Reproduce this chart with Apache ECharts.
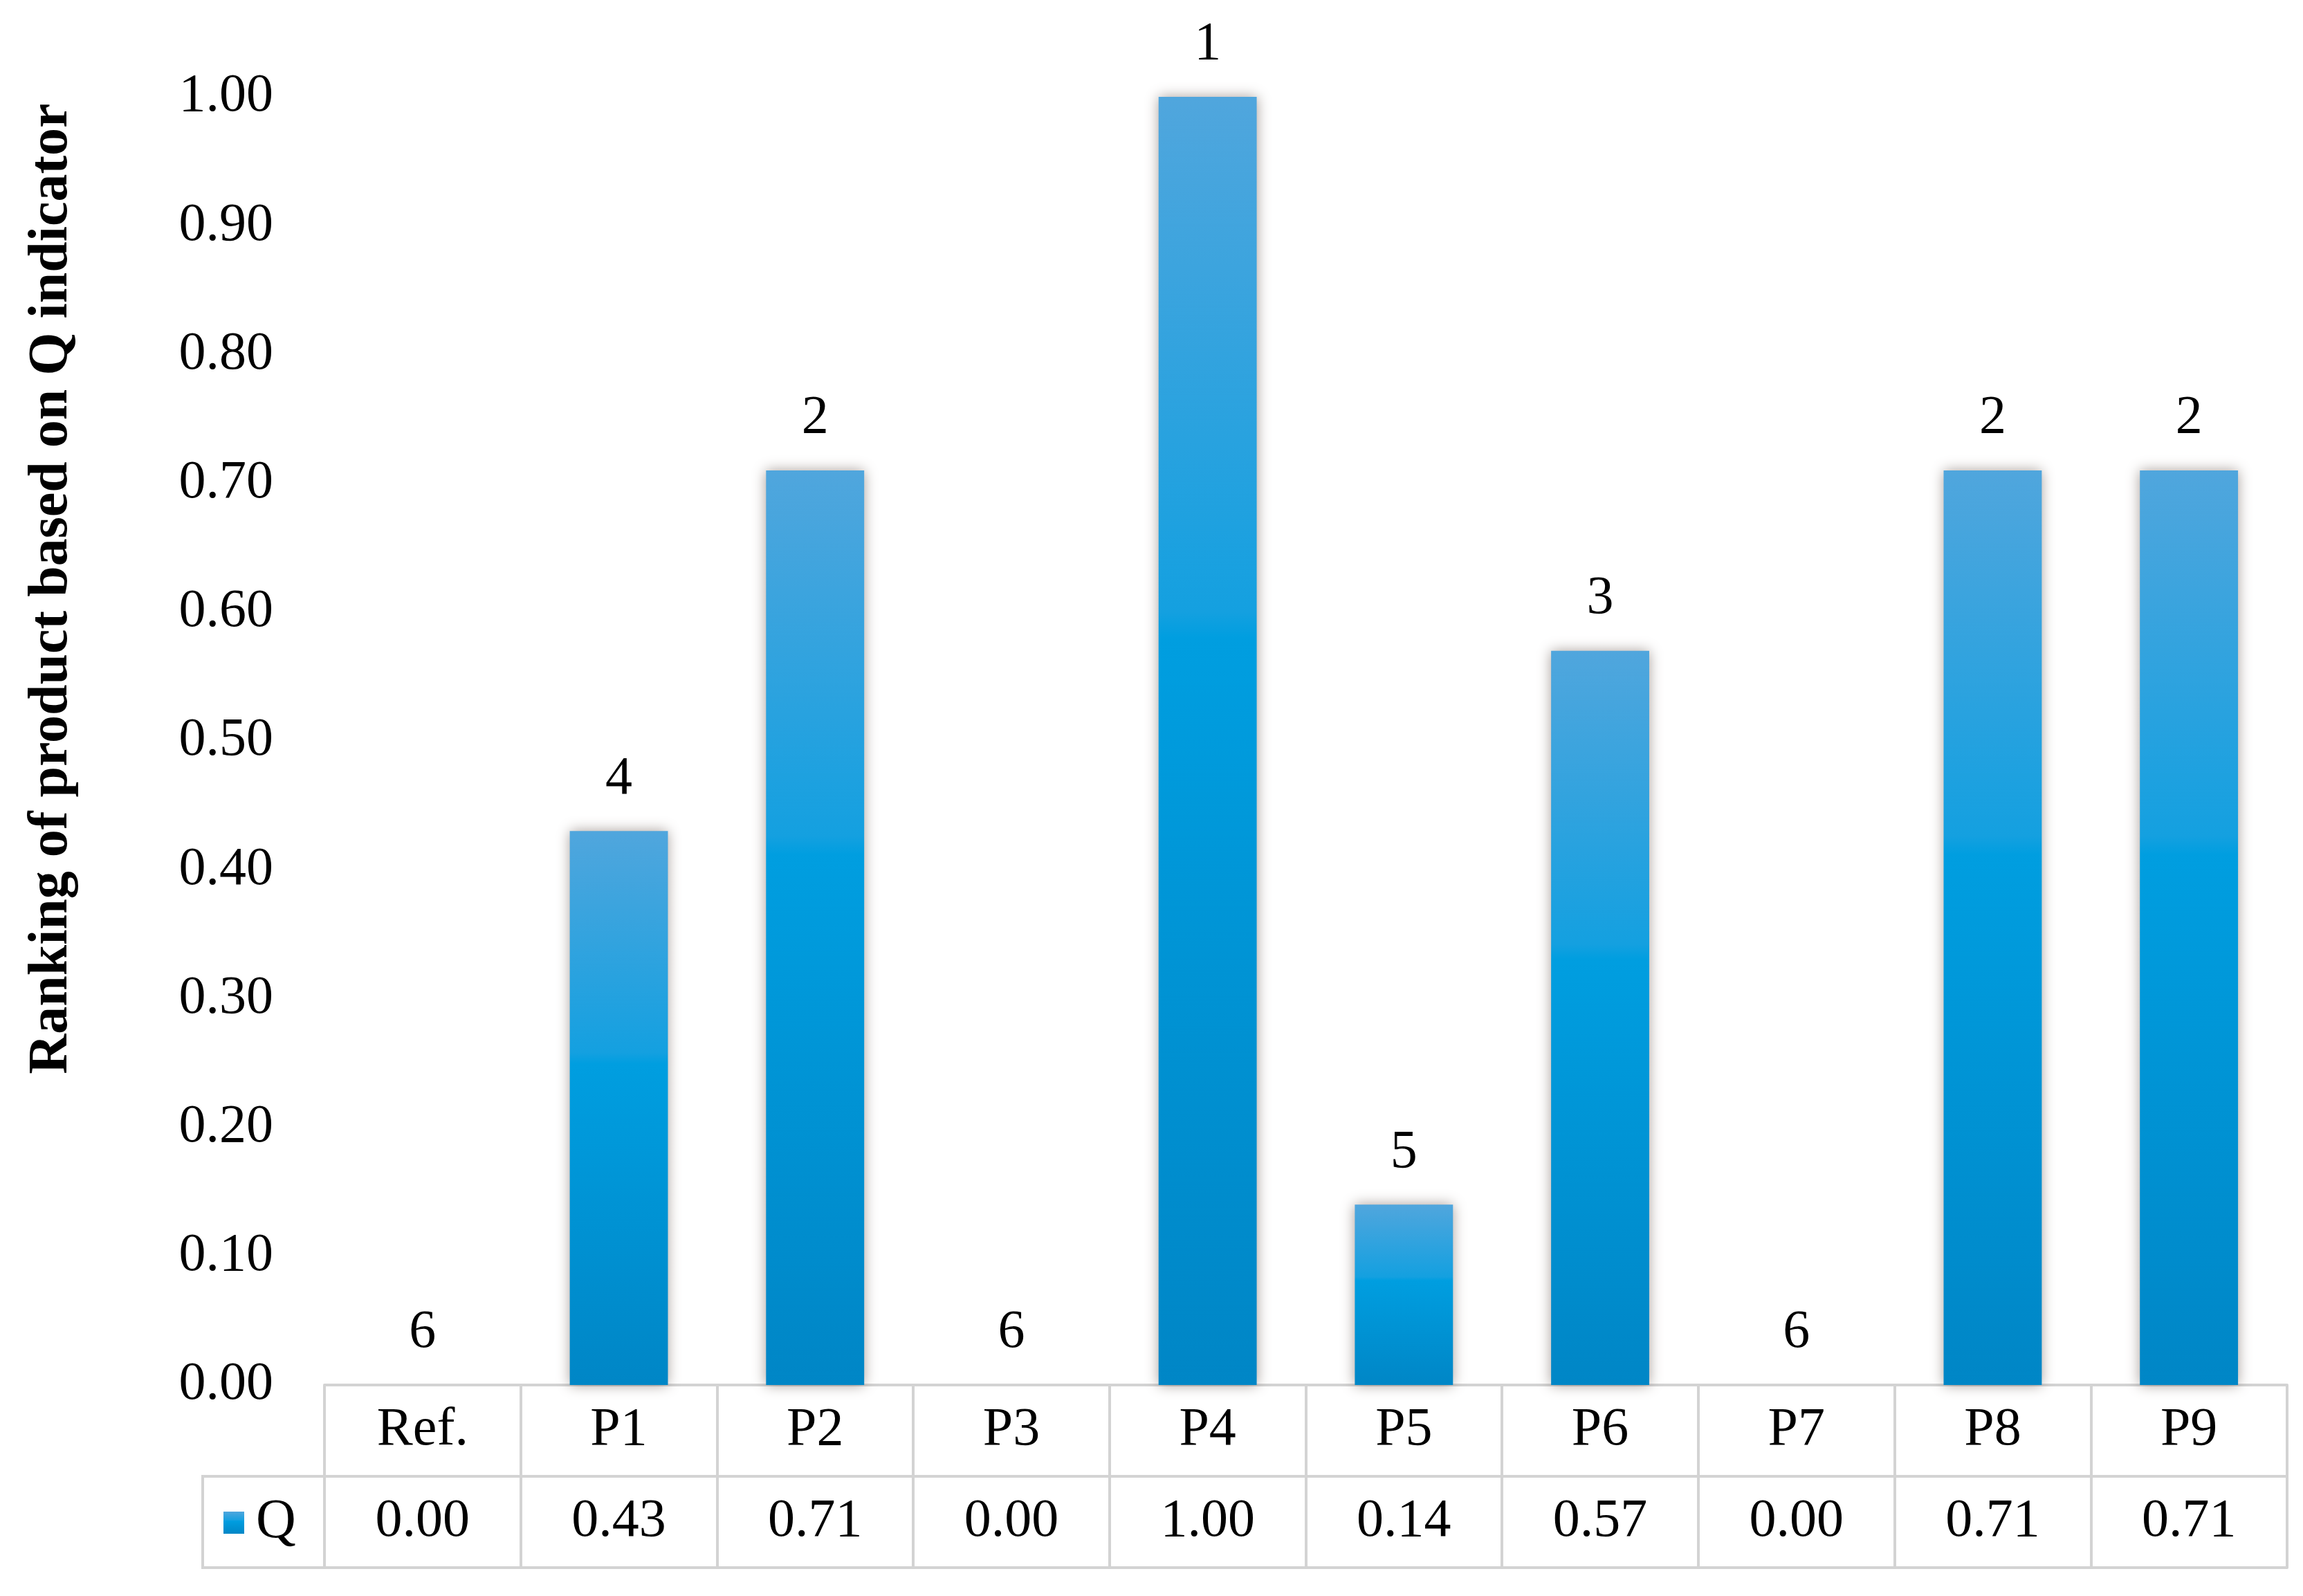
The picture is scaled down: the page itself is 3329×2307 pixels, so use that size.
<!DOCTYPE html>
<html>
<head>
    <meta charset="utf-8">
    <title>Ranking of product based on Q indicator</title>
    <script src="https://cdn.jsdelivr.net/npm/echarts@6/dist/echarts.min.js"></script>
    <style>
        html, body { margin: 0; padding: 0; background: #fff; }
        #main { width: 3329px; height: 2307px; }
    </style>
</head>
<body>
<div id="main"></div>
<script>
    // data
    var categories = ['Ref.', 'P1', 'P2', 'P3', 'P4', 'P5', 'P6', 'P7', 'P8', 'P9'];
    var qValues = [0.00, 0.43, 0.71, 0.00, 1.00, 0.14, 0.57, 0.00, 0.71, 0.71];
    var ranks = [6, 4, 2, 6, 1, 5, 3, 6, 2, 2];

    var font = '"Liberation Serif", "DejaVu Serif", serif';
    var lineCol = '#d3d3d3';
    var gridLeft = 469, gridRight = 23, gridTop = 140, gridBottom = 305;
    var rowH = 132;

    var barColor = {
        type: 'linear', x: 0, y: 0, x2: 0, y2: 1,
        colorStops: [
            {offset: 0, color: '#50a6dd'},
            {offset: 0.4, color: '#14a0e0'},
            {offset: 0.42, color: '#009ee0'},
            {offset: 1, color: '#0086c6'}
        ]
    };

    var option = {
        backgroundColor: '#fff',
        animation: false,
        grid: {left: gridLeft, right: gridRight, top: gridTop, bottom: gridBottom, containLabel: false},
        legend: {
            data: ['Q'],
            left: 318, top: 2134 + rowH / 2 - 44,
            itemWidth: 30, itemHeight: 32, itemGap: 10,
            icon: 'rect',
            textStyle: {fontFamily: font, fontSize: 80, color: '#000', padding: [0, 0, 0, 12]}
        },
        xAxis: [
            {   // category row
                type: 'category', data: categories, position: 'bottom',
                axisLine: {show: true, lineStyle: {color: lineCol, width: 4}},
                axisTick: {show: true, length: rowH * 2, inside: false, lineStyle: {color: lineCol, width: 4}},
                axisLabel: {margin: rowH / 2, verticalAlign: 'middle', fontFamily: font, fontSize: 78, color: '#000'}
            },
            {   // value row
                type: 'category', data: qValues.map(function (v) { return v.toFixed(2); }),
                position: 'bottom', offset: rowH,
                axisLine: {show: true, lineStyle: {color: lineCol, width: 4}},
                axisTick: {show: false},
                axisLabel: {margin: rowH / 2, verticalAlign: 'middle', fontFamily: font, fontSize: 78, color: '#000'}
            },
            {   // bottom border
                type: 'category', data: categories, position: 'bottom', offset: rowH * 2,
                axisLine: {show: true, lineStyle: {color: lineCol, width: 4}},
                axisTick: {show: false}, axisLabel: {show: false}
            }
        ],
        yAxis: {
            type: 'value', min: 0, max: 1, interval: 0.1,
            axisLine: {show: false}, axisTick: {show: false}, splitLine: {show: false},
            axisLabel: {
                margin: 74, fontFamily: font, fontSize: 78, color: '#000',
                formatter: function (v) { return v.toFixed(2); }
            },
            name: 'Ranking of product based on Q indicator',
            nameLocation: 'middle', nameGap: 354, nameRotate: 90,
            nameTextStyle: {fontFamily: font, fontSize: 80, fontWeight: 'bold', color: '#000', padding: [0, 0, 0, 440]}
        },
        graphic: [
            {   // legend cell of the data table
                type: 'rect',
                shape: {x: 293, y: 2307 - gridBottom + rowH, width: gridLeft - 293, height: rowH},
                style: {fill: 'none', stroke: lineCol, lineWidth: 4}
            }
        ],
        series: [{
            name: 'Q', type: 'bar', data: qValues, barWidth: '50%',
            itemStyle: {
                color: barColor,
                shadowBlur: 18, shadowColor: 'rgba(60,40,30,0.45)', shadowOffsetX: 0, shadowOffsetY: 0
            },
            label: {
                show: true, position: 'top', distance: 36,
                fontFamily: font, fontSize: 78, color: '#000',
                formatter: function (p) { return ranks[p.dataIndex]; }
            }
        }]
    };

    var chart = echarts.init(document.getElementById('main'));
    chart.setOption(option);
</script>
</body>
</html>
